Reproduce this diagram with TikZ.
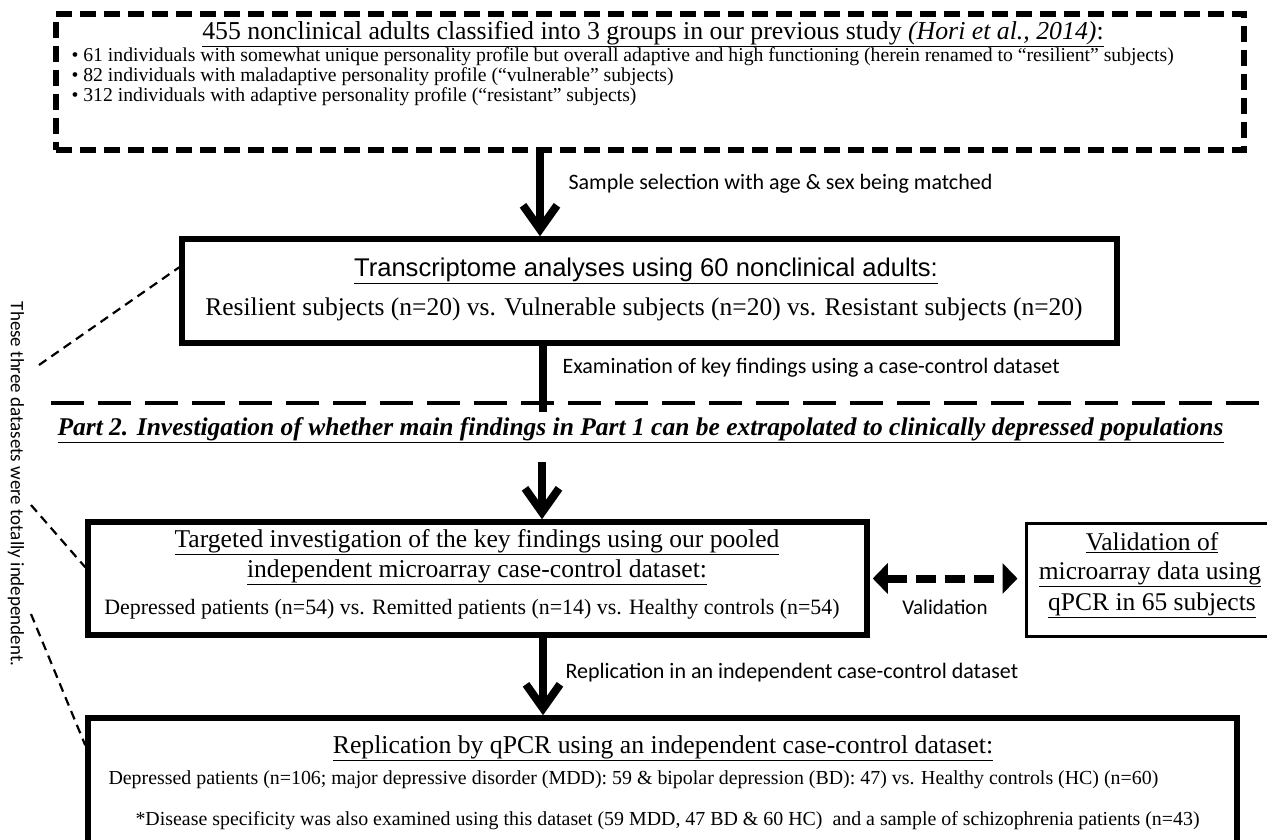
\documentclass[tikz,border=0pt]{standalone}
\usepackage{fontspec}
\setmainfont{Liberation Serif}
\newfontfamily\calibri{Carlito}
\newfontfamily\arial{Liberation Sans}
\usetikzlibrary{arrows.meta, calc}

\tikzset{
	box/.style = {draw, line width = 5.5pt, inner sep = 0pt},
	pfeil/.style = {line width = 8pt, -{Straight Barb[length = 24pt, width = 34pt]}},
	notiz/.style = {anchor = west, font = \calibri\fontsize{22pt}{26pt}\selectfont},
	trennung/.style = {line width = 2.2pt, dash pattern = on 9pt off 6pt},
}

\begin{document}
\begin{tikzpicture}[x = 1pt, y = 1pt, yscale = -1]
	\useasboundingbox (0, 0) rectangle (1267, 839);
	\clip (0, 0) rectangle (1267, 839);

	% Part 1:
	\node [box, dash pattern = on 16pt off 8pt, minimum width = 1188pt, minimum height = 136pt] (cohort) at (650, 82) {};
	\node (cohorttitle) at (653, 34) {\fontsize{25.8pt}{30pt}\selectfont \underline{455 nonclinical adults classified into 3 groups in our previous study \textit{(Hori et al., 2014)}:}};
	\begin{scope}[anchor = west]
		\node (bullet1) at (68, 57) {\fontsize{19.7pt}{22pt}\selectfont • 61 individuals with somewhat unique personality profile but overall adaptive and high functioning (herein renamed to “resilient” subjects)};
		\node (bullet2) at (68, 77) {\fontsize{19.7pt}{22pt}\selectfont • 82 individuals with maladaptive personality profile (“vulnerable” subjects)};
		\node (bullet3) at (68, 97) {\fontsize{19.7pt}{22pt}\selectfont • 312 individuals with adaptive personality profile (“resistant” subjects)};
	\end{scope}

	\node [box, minimum width = 935pt, minimum height = 104pt] (transcriptome) at (649.5, 291) {};
	\node (transtitle) at (646, 271) {\arial\fontsize{25.6pt}{30pt}\selectfont \underline{Transcriptome analyses using 60 nonclinical adults:}};
	\node (transgroups) at (644, 309) {\fontsize{25.5pt}{30pt}\selectfont Resilient subjects (n=20) vs. Vulnerable subjects (n=20) vs. Resistant subjects (n=20)};

	\coordinate (k1) at (540, 0);
	\draw [pfeil] (k1 |- cohort.south) -- (k1 |- transcriptome.north);
	\node [notiz] (label1) at (565, 184) {Sample selection with age \& sex being matched};

	\coordinate (linienende) at (543, 412);
	\draw [line width = 8pt] (linienende |- transcriptome.south) -- (linienende);
	\node [notiz] (label2) at (559, 368) {Examination of key findings using a case-control dataset};

	% Part 2:
	\draw [line width = 4pt, dash pattern = on 33pt off 14pt] (51, 403) -- (1267, 403);
	\node [anchor = west] (part2) at (54, 430) {\fontsize{25.5pt}{30pt}\selectfont \bfseries\itshape \underline{Part 2. Investigation of whether main findings in Part 1 can be extrapolated to clinically depressed populations}};

	\node [box, minimum width = 779pt, minimum height = 113pt] (targeted) at (477.5, 578.5) {};
	\node (targetedtitle) at (477, 542) {\fontsize{25.6pt}{30pt}\selectfont \underline{Targeted investigation of the key findings using our pooled}};
	\node (targetedtitle2) at (477, 572) {\fontsize{25.6pt}{30pt}\selectfont \underline{independent microarray case-control dataset:}};
	\node (targetedgroups) at (472, 609) {\fontsize{21.9pt}{26pt}\selectfont Depressed patients (n=54) vs. Remitted patients (n=14) vs. Healthy controls (n=54)};

	\node [box, line width = 3pt, minimum width = 250pt, minimum height = 113pt] (validation) at (1151, 579.5) {};
	\node (val1) at (1152, 543) {\fontsize{25.5pt}{30pt}\selectfont \underline{Validation of}};
	\node (val2) at (1150, 574) {\fontsize{25.5pt}{30pt}\selectfont \underline{microarray data using}};
	\node (val3) at (1152, 605) {\fontsize{25.5pt}{30pt}\selectfont \underline{qPCR in 65 subjects}};

	\draw [line width = 8pt, dash pattern = on 20pt off 9pt, {Triangle[length = 15pt, width = 30pt]}-{Triangle[length = 15pt, width = 30pt]}, shorten <= 3pt, shorten >= 7pt] (targeted.east) -- (targeted.east -| validation.west);
	\node [notiz, anchor = center, font = \calibri\fontsize{21pt}{25pt}\selectfont] (label3) at (945, 607) {Validation};

	\coordinate (k3) at (542, 462);
	\draw [pfeil] (k3) -- (k3 |- targeted.north);

	\node [box, minimum width = 1149pt, minimum height = 160pt] (replication) at (662.5, 798) {};
	\node (repltitle) at (663, 748) {\fontsize{25.7pt}{30pt}\selectfont \underline{Replication by qPCR using an independent case-control dataset:}};
	\begin{scope}[anchor = west]
		\node (replgroups) at (105, 780) {\fontsize{19.9pt}{23pt}\selectfont Depressed patients (n=106; major depressive disorder (MDD): 59 \& bipolar depression (BD): 47) vs. Healthy controls (HC) (n=60)};
		\node (replnote) at (132, 821) {\fontsize{19.9pt}{23pt}\selectfont *Disease specificity was also examined using this dataset (59 MDD, 47 BD \& 60 HC)\ \ and a sample of schizophrenia patients (n=43)};
	\end{scope}

	\coordinate (k4) at (543, 0);
	\draw [pfeil] (k4 |- targeted.south) -- (k4 |- replication.north);
	\node [notiz] (label4) at (562, 673) {Replication in an independent case-control dataset};

	% Hinweis links:
	\node [anchor = center, rotate = -90, font = \calibri\fontsize{19pt}{22pt}\selectfont] (unabh) at (16, 484) {These three datasets were totally independent.};
	\coordinate (d1) at (39, 365);
	\coordinate (d2) at (31, 505);
	\coordinate (d3) at (31, 614);
	\draw [trennung] (d1) -- ($(transcriptome.north west) + (0, 31)$);
	\draw [trennung] (d2) -- ($(targeted.north west) + (0, 48)$);
	\draw [trennung] (d3) -- ($(replication.north west) + (0, 30)$);
\end{tikzpicture}
\end{document}
